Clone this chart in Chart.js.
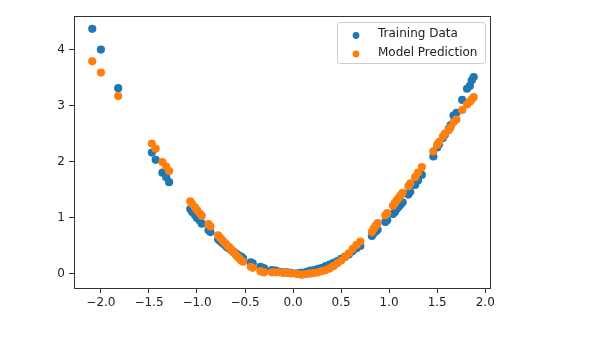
<!DOCTYPE html>
<html>
<head>
<meta charset="utf-8">
<script src="https://cdn.jsdelivr.net/npm/chart.js@4"></script>
<style>
  html, body { margin: 0; padding: 0; background: #fff; }
  #chart { display: block; }
</style>
</head>
<body>
<canvas id="chart" width="600" height="353"></canvas>
<script>
// ── Data ─────────────────────────────────────────────────────────
const xValues = [
  -2.09, -2.00, -1.82,
  -1.47, -1.43, -1.36, -1.32, -1.29,
  -1.07, -1.05, -1.02, -1.00, -0.97, -0.95, -0.88, -0.86,
  -0.78, -0.76, -0.74, -0.72, -0.70, -0.68, -0.66, -0.64, -0.62, -0.60,
  -0.58, -0.56, -0.54, -0.52, -0.44, -0.42, -0.34, -0.32, -0.30,
  -0.22, -0.18, -0.14, -0.10, -0.06, -0.02, 0.04, 0.08, 0.10, 0.14,
  0.18, 0.22, 0.26, 0.30, 0.34, 0.38, 0.42, 0.46, 0.50, 0.54,
  0.58, 0.62, 0.66, 0.70,
  0.82, 0.84, 0.86, 0.88, 0.96, 0.98,
  1.04, 1.06, 1.08, 1.10, 1.12, 1.14, 1.20, 1.22, 1.27, 1.30, 1.34,
  1.46, 1.50, 1.52, 1.56, 1.58, 1.62, 1.64, 1.67, 1.70, 1.76, 1.81, 1.84, 1.86, 1.88
];
const trainY = [
  4.37, 4.00, 3.31,
  2.16, 2.03, 1.80, 1.72, 1.63,
  1.15, 1.10, 1.04, 0.99, 0.94, 0.89, 0.77, 0.74,
  0.61, 0.58, 0.55, 0.52, 0.49, 0.46, 0.44, 0.41, 0.39, 0.36,
  0.34, 0.31, 0.30, 0.27, 0.20, 0.18, 0.12, 0.10, 0.09,
  0.06, 0.05, 0.03, 0.02, 0.02, 0.01, 0.00, 0.01, 0.01, 0.03,
  0.05, 0.06, 0.08, 0.10, 0.13, 0.16, 0.19, 0.22, 0.26, 0.30,
  0.34, 0.40, 0.45, 0.49,
  0.67, 0.72, 0.75, 0.78, 0.92, 0.95,
  1.06, 1.10, 1.15, 1.19, 1.23, 1.27, 1.41, 1.46, 1.58, 1.66, 1.76,
  2.09, 2.25, 2.31, 2.42, 2.48, 2.58, 2.65, 2.82, 2.87, 3.10, 3.30, 3.35, 3.45, 3.51
];
const predY = [
  3.79, 3.59, 3.17,
  2.32, 2.23, 1.99, 1.91, 1.83,
  1.29, 1.24, 1.18, 1.13, 1.07, 1.03, 0.88, 0.84,
  0.68, 0.64, 0.60, 0.56, 0.53, 0.49, 0.46, 0.42, 0.38, 0.34,
  0.30, 0.27, 0.23, 0.21, 0.12, 0.10, 0.04, 0.03, 0.02,
  0.02, 0.02, 0.02, 0.01, 0.01, 0.00, -0.01, -0.02, -0.02, -0.01,
  0.00, 0.01, 0.02, 0.04, 0.06, 0.09, 0.13, 0.18, 0.23, 0.29,
  0.36, 0.44, 0.51, 0.57,
  0.74, 0.80, 0.85, 0.90, 1.04, 1.08,
  1.21, 1.26, 1.31, 1.35, 1.40, 1.44, 1.56, 1.61, 1.72, 1.80, 1.90,
  2.18, 2.30, 2.35, 2.45, 2.50, 2.56, 2.61, 2.70, 2.75, 2.92, 3.02, 3.07, 3.11, 3.15
];
const xTicks = [-2.0, -1.5, -1.0, -0.5, 0.0, 0.5, 1.0, 1.5, 2.0];
const yTicks = [0, 1, 2, 3, 4];
const seriesNames = ['Training Data', 'Model Prediction'];
const seriesColors = ['#1f77b4', '#ff7f0e'];

const FONT = '"DejaVu Sans", sans-serif';
const toPoints = ys => xValues.map((x, i) => ({ x, y: ys[i] }));
const minus = s => s.replace('-', '\u2212');

// ── Plugins: frame + matplotlib-style legend ─────────────────────
const framePlugin = {
  id: 'frame',
  afterDraw(chart) {
    const { ctx, chartArea: a } = chart;
    ctx.save();
    ctx.strokeStyle = '#333';
    ctx.lineWidth = 1;
    ctx.strokeRect(Math.round(a.left) + 0.5, Math.round(a.top) + 0.5,
      Math.round(a.right - a.left) - 1, Math.round(a.bottom - a.top));
    ctx.restore();
  }
};

const legendPlugin = {
  id: 'mplLegend',
  afterDraw(chart) {
    const ctx = chart.ctx;
    const a = chart.chartArea;
    const boxW = 148, boxH = 41;
    const x0 = a.right - 6 - boxW, y0 = a.top + 6;
    ctx.save();
    ctx.fillStyle = 'rgba(255,255,255,0.8)';
    ctx.strokeStyle = '#cccccc';
    ctx.lineWidth = 1;
    ctx.beginPath();
    ctx.roundRect(x0 + 0.5, y0 + 0.5, boxW, boxH, 3);
    ctx.fill();
    ctx.stroke();
    ctx.font = '12px ' + FONT;
    ctx.textBaseline = 'middle';
    chart.data.datasets.forEach((ds, i) => {
      const cy = y0 + 12 + i * 18.5;
      ctx.fillStyle = ds.backgroundColor;
      ctx.beginPath();
      ctx.arc(x0 + 19, cy + 1.5, 3.4, 0, Math.PI * 2);
      ctx.fill();
      ctx.fillStyle = '#222';
      ctx.fillText(ds.label, x0 + 41, cy);
    });
    ctx.restore();
  }
};

// ── Chart ────────────────────────────────────────────────────────
new Chart(document.getElementById('chart'), {
  type: 'scatter',
  data: {
    datasets: [
      {
        label: seriesNames[0],
        data: toPoints(trainY),
        backgroundColor: seriesColors[0],
        pointRadius: 4.1,
        borderWidth: 0,
        order: 1
      },
      {
        label: seriesNames[1],
        data: toPoints(predY),
        backgroundColor: seriesColors[1],
        pointRadius: 4.1,
        borderWidth: 0,
        order: 0
      }
    ]
  },
  options: {
    responsive: false,
    animation: false,
    layout: { padding: { left: 0, top: 16, right: 109, bottom: 0 } },
    plugins: { legend: { display: false }, tooltip: { enabled: false } },
    scales: {
      x: {
        type: 'linear',
        min: -2.28,
        max: 2.06,
        afterBuildTicks: s => { s.ticks = xTicks.map(v => ({ value: v })); },
        afterFit: s => { s.height = 65; },
        border: { display: false },
        grid: { drawOnChartArea: false, drawTicks: true, tickLength: 5, color: '#333' },
        ticks: {
          color: '#222',
          padding: 3,
          maxRotation: 0,
          font: { family: FONT, size: 12 },
          callback: v => minus(Number(v).toFixed(1))
        }
      },
      y: {
        type: 'linear',
        min: -0.26,
        max: 4.6,
        afterBuildTicks: s => { s.ticks = yTicks.map(v => ({ value: v })); },
        afterFit: s => { s.width = 74; },
        border: { display: false },
        grid: { drawOnChartArea: false, drawTicks: true, tickLength: 5, color: '#333' },
        ticks: {
          color: '#222',
          padding: 4,
          font: { family: FONT, size: 12 },
          callback: v => minus(String(v))
        }
      }
    }
  },
  plugins: [framePlugin, legendPlugin]
});
</script>
</body>
</html>
